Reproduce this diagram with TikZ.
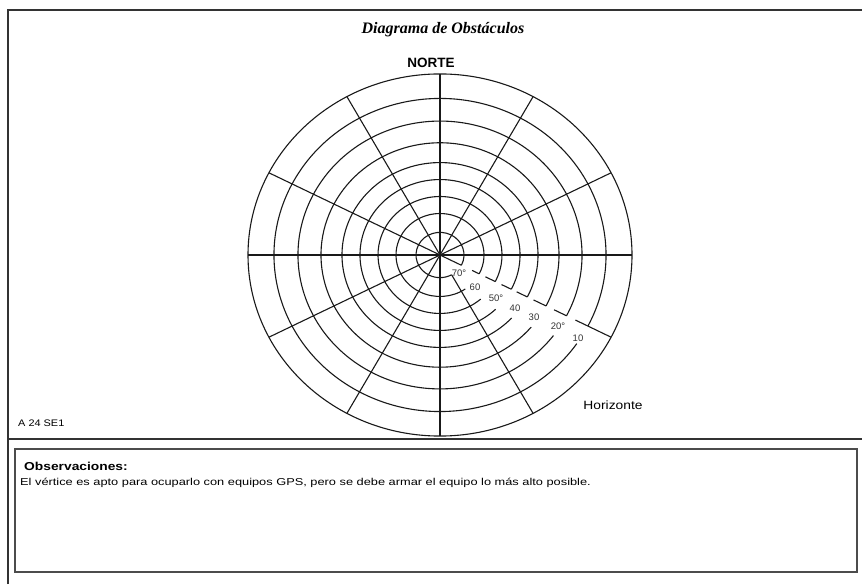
\documentclass[tikz,border=0pt]{standalone}
\usepackage{fontspec}
\usepackage{graphicx}
\setmainfont{Liberation Serif}
\setsansfont{Liberation Sans}
\begin{document}
\begin{tikzpicture}[x=1pt,y=1pt,
    linea/.style={line width=1.1pt,black!90},
    marco/.style={line width=1.6pt,black!80},
    grado/.style={font=\sffamily\fontsize{9.5}{9.5}\selectfont,inner sep=0pt,black!80}]
        \useasboundingbox (0,0) rectangle (862,584);
        %    \draw [help lines] (0,0) grid (862,584);
        \draw[marco] (8,0) -- (8,574) -- (862,574);
        \draw[marco] (8,145) -- (862,145);
        \draw[line width=1.2pt,black!70] (15,12) rectangle (857,135);

        \path node (titulo) at (443,554) {\fontsize{16}{16}\selectfont\bfseries\itshape Diagrama de Obst\'aculos};
        \path node (norte) at (431,521) {\sffamily\bfseries\fontsize{13.5}{13.5}\selectfont NORTE};
        \path node (horizonte) at (613,179) {\sffamily\fontsize{12}{12}\selectfont\scalebox{1.15}[1]{Horizonte}};
        \path node (hoja) [anchor=west,inner sep=0pt] at (18,161) {\sffamily\fontsize{9.5}{9.5}\selectfont\scalebox{1.15}[1]{A 24 SE1}};
        \path node (obs) [anchor=west,inner sep=0pt] at (24,118) {\sffamily\bfseries\fontsize{11.5}{11.5}\selectfont\scalebox{1.2}[1]{Observaciones:}};
        \path node (texto) [anchor=west,inner sep=0pt] at (20,101) {\sffamily\fontsize{10}{10}\selectfont\scalebox{1.28}[1]{El v\'ertice es apto para ocuparlo con equipos GPS, pero se debe armar el equipo lo m\'as alto posible.}};

        \begin{scope}[shift={(440,329)},yscale=0.943]
            \draw[linea] (0,0) circle [radius=192];
            \foreach \a in {0,27,61,90,119,153,180,207,241,270}
            {
                \draw[linea] (0,0) -- (\a:192);
            }
            \draw[linea] (-61:24) -- (-61:192);
            \draw[linea] (0,0) -- (-27:24);
            \draw[linea] (-27:166) -- (-27:192);
            % anillos cortados donde van los grados
            \foreach \r/\g in {166/34.5,142/37,119/40,98/43,80/46,62/49,44/55,24/61}
            {
                \draw[linea] (-27:\r) arc [start angle=-27, end angle=360-\g, radius=\r];
            }
            \foreach \r/\h in {166/152,142/128,119/105,98/86,80/69,62/51,44/36}
            {
                \draw[linea] (-27:\r) -- (-27:\h);
            }
        \end{scope}

        \path node (g70) [grado] at (459,311) {70°};
        \path node (g60) [grado] at (475,297) {60};
        \path node (g50) [grado] at (496,286) {50°};
        \path node (g40) [grado] at (515,276) {40};
        \path node (g30) [grado] at (534,267) {30};
        \path node (g20) [grado] at (558,258) {20°};
        \path node (g10) [grado] at (578,246) {10};
\end{tikzpicture}
\end{document}
